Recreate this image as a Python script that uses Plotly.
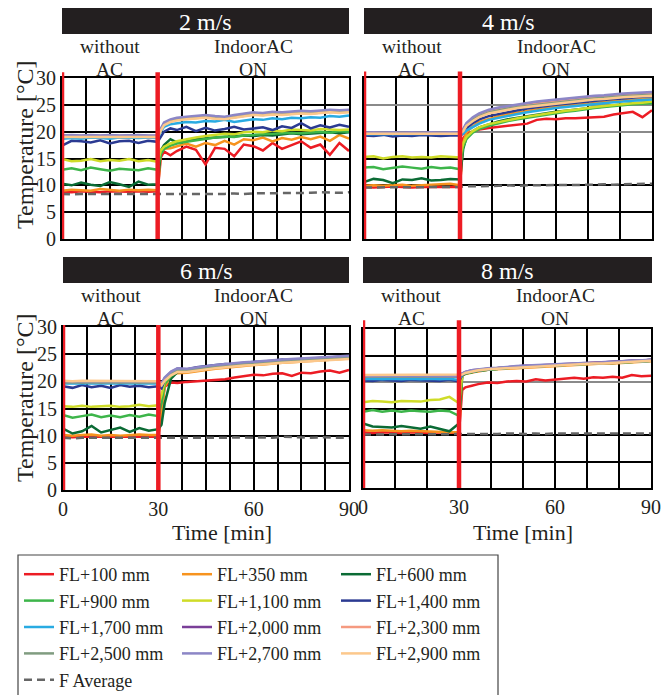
import plotly.graph_objects as go

W, H = 667, 695

# time axis [min]
T = [0, 3, 6, 9, 12, 15, 18, 21, 24, 27, 30, 31, 32, 34, 36, 39, 42, 45, 48, 51, 54, 57,
     60, 63, 66, 69, 72, 75, 78, 81, 84, 87, 90]

series_names = ["FL+100 mm", "FL+350 mm", "FL+600 mm", "FL+900 mm", "FL+1,100 mm",
                "FL+1,400 mm", "FL+1,700 mm", "FL+2,000 mm", "FL+2,300 mm",
                "FL+2,500 mm", "FL+2,700 mm", "FL+2,900 mm", "F Average"]
series_colors = ["#ec1c24", "#f7931e", "#0b6b35", "#3db54a", "#cfdc28", "#2b3a92",
                 "#29abe2", "#7a3f98", "#f59a80", "#809c80", "#8c86c6", "#fcc88c", "#666666"]
panel_titles = ["2 m/s", "4 m/s", "6 m/s", "8 m/s"]
phase_labels = [("without", "AC"), ("IndoorAC", "ON")]

# ---------------- 2 m/s ----------------
a_fl100 = [8.8, 8.7, 8.9, 8.8, 8.7, 8.9, 8.8, 8.8, 8.9, 8.8, 8.9,
           15.2, 16.3, 15.6, 16.4, 17.2, 16.6, 13.9, 17.0, 16.8, 15.4, 17.6, 17.3, 16.5, 17.9, 16.8, 17.5, 18.2, 17.0, 17.6, 15.7, 17.9, 16.4]
a_fl350 = [9.0, 9.2, 9.1, 9.0, 9.3, 9.1, 9.0, 9.2, 9.1, 9.2, 9.1,
           16.0, 16.8, 16.9, 17.3, 17.8, 17.2, 17.9, 17.5, 18.3, 17.6, 18.6, 18.4, 18.9, 18.2, 18.8, 18.5, 19.0, 18.6, 19.1, 18.3, 19.4, 18.7]
a_fl600 = [10.3, 10.0, 10.5, 10.1, 9.9, 10.6, 10.2, 9.7, 10.7, 10.1, 10.2,
           16.5, 17.5, 18.6, 18.0, 18.2, 18.6, 18.8, 18.9, 19.0, 19.1, 19.3, 19.2, 19.4, 19.3, 19.5, 19.7, 19.5, 19.6, 19.8, 19.9, 19.7, 19.9]
a_fl900 = [12.9, 13.2, 12.8, 13.3, 13.0, 12.7, 13.1, 13.0, 12.8, 13.2, 12.9,
           15.8, 16.8, 17.4, 17.8, 18.1, 18.4, 18.7, 18.9, 19.1, 19.0, 19.3, 19.4, 19.5, 19.6, 19.6, 19.8, 19.7, 19.9, 20.0, 19.8, 20.1, 20.0]
a_fl1100 = [14.9, 14.5, 14.6, 14.9, 14.5, 14.7, 14.6, 14.9, 14.5, 14.7, 14.4,
            16.5, 17.2, 17.8, 18.2, 18.6, 18.9, 19.2, 19.4, 19.6, 19.5, 19.9, 20.0, 19.9, 20.2, 20.1, 20.4, 20.3, 20.2, 20.5, 20.4, 20.3, 20.4]
a_fl1400 = [17.4, 18.3, 18.2, 18.0, 18.4, 17.8, 18.2, 18.3, 17.9, 18.3, 18.1,
            19.0, 20.0, 20.6, 20.3, 20.9, 20.1, 20.7, 20.2, 20.5, 20.9, 20.4, 20.6, 20.8, 20.3, 21.0, 20.7, 21.6, 20.6, 21.2, 20.8, 21.3, 20.9]
a_fl1700 = [18.7, 18.8, 18.7, 18.9, 18.8, 18.7, 18.9, 18.8, 18.8, 18.9, 18.8,
            20.0, 20.9, 21.4, 21.6, 21.8, 21.7, 22.0, 21.9, 22.2, 21.8, 22.1, 22.3, 22.2, 22.5, 22.3, 22.6, 22.5, 22.7, 22.6, 22.9, 22.8, 23.0]
a_fl2000 = [19.2, 19.3, 19.2, 19.3, 19.2, 19.3, 19.2, 19.3, 19.3, 19.2, 19.2,
            20.5, 21.5, 22.1, 22.4, 22.6, 22.8, 22.9, 22.7, 22.6, 22.9, 23.2, 23.4, 23.3, 23.5, 23.4, 23.6, 23.7, 23.6, 23.8, 23.9, 23.8, 23.9]
a_fl2300 = [19.0, 19.1, 19.0, 19.1, 19.0, 19.1, 19.0, 19.1, 19.1, 19.0, 19.0,
            20.3, 21.3, 21.9, 22.2, 22.5, 22.7, 22.8, 22.6, 22.5, 22.8, 23.1, 23.3, 23.2, 23.4, 23.3, 23.5, 23.6, 23.5, 23.7, 23.8, 23.7, 23.8]
a_fl2500 = [19.1, 19.1, 19.2, 19.1, 19.1, 19.2, 19.1, 19.1, 19.2, 19.1, 19.1,
            20.4, 21.4, 22.0, 22.3, 22.4, 22.6, 22.7, 22.5, 22.4, 22.7, 23.0, 23.2, 23.1, 23.3, 23.2, 23.4, 23.5, 23.4, 23.6, 23.7, 23.6, 23.7]
a_fl2700 = [19.3, 19.4, 19.3, 19.4, 19.3, 19.4, 19.3, 19.4, 19.4, 19.3, 19.3,
            20.6, 21.7, 22.3, 22.6, 22.8, 23.0, 23.1, 22.9, 22.8, 23.1, 23.4, 23.6, 23.5, 23.7, 23.6, 23.8, 23.9, 23.8, 24.0, 24.1, 24.0, 24.1]
a_fl2900 = [19.0, 19.0, 19.1, 19.0, 19.0, 19.1, 19.0, 19.0, 19.1, 19.0, 19.0,
            20.2, 21.2, 21.8, 22.1, 22.3, 22.5, 22.6, 22.4, 22.3, 22.6, 22.9, 23.1, 23.0, 23.2, 23.1, 23.3, 23.4, 23.3, 23.5, 23.6, 23.5, 23.6]
a_favg = [8.4, 8.3, 8.4, 8.4, 8.3, 8.4, 8.4, 8.3, 8.4, 8.4, 8.4,
          8.3, 8.3, 8.3, 8.4, 8.3, 8.4, 8.4, 8.3, 8.4, 8.5, 8.4, 8.5, 8.5, 8.5, 8.6, 8.5, 8.6, 8.6, 8.7, 8.6, 8.6, 8.7]

# ---------------- 4 m/s ----------------
b_fl100 = [9.7, 9.6, 9.7, 9.8, 9.7, 9.6, 9.7, 9.7, 9.8, 9.7, 9.7,
           18.8, 19.6, 20.0, 20.4, 20.7, 20.9, 21.2, 21.4, 21.5, 22.2, 22.4, 22.3, 22.5, 22.5, 22.6, 22.6, 22.8, 23.2, 23.4, 23.7, 22.7, 24.0]
b_fl350 = [9.9, 10.0, 9.9, 10.0, 10.1, 9.9, 10.0, 10.0, 10.1, 10.3, 10.0,
           18.0, 19.8, 21.0, 21.8, 22.4, 22.9, 23.3, 23.6, 23.9, 24.2, 24.4, 24.6, 24.8, 25.0, 25.2, 25.4, 25.5, 25.7, 25.8, 25.9, 26.0, 26.2]
b_fl600 = [10.6, 11.2, 11.0, 10.4, 11.1, 11.0, 11.3, 10.9, 11.0, 11.2, 11.1,
           16.8, 18.9, 20.1, 20.8, 21.4, 21.9, 22.3, 22.6, 22.9, 23.2, 23.4, 23.7, 23.9, 24.1, 24.4, 24.6, 24.8, 25.0, 25.1, 25.3, 25.4, 25.5]
b_fl900 = [13.3, 13.4, 13.0, 13.2, 13.5, 13.3, 13.1, 13.4, 13.2, 13.3, 13.0,
           17.2, 18.6, 19.8, 20.5, 21.1, 21.6, 22.0, 22.3, 22.6, 22.9, 23.1, 23.4, 23.7, 23.9, 24.2, 24.4, 24.6, 24.8, 24.9, 25.1, 25.2, 25.3]
b_fl1100 = [15.3, 15.4, 15.0, 15.3, 15.4, 15.2, 15.3, 15.2, 15.4, 15.3, 15.2,
            17.8, 19.0, 20.1, 20.8, 21.4, 21.8, 22.2, 22.5, 22.8, 23.1, 23.3, 23.6, 23.9, 24.1, 24.4, 24.6, 24.8, 25.0, 25.1, 25.3, 25.4, 25.6]
b_fl1400 = [19.3, 19.2, 19.4, 19.1, 19.3, 19.2, 19.4, 19.3, 19.2, 19.3, 19.3,
            19.6, 20.6, 21.6, 22.3, 22.9, 23.3, 23.7, 24.0, 24.3, 24.6, 24.8, 25.0, 25.2, 25.4, 25.6, 25.8, 25.9, 26.1, 26.2, 26.4, 26.5, 26.6]
b_fl1700 = [19.5, 19.5, 19.6, 19.5, 19.5, 19.6, 19.5, 19.5, 19.6, 19.5, 19.5,
            19.6, 20.2, 20.9, 21.5, 22.2, 22.6, 23.0, 23.3, 23.6, 23.9, 24.2, 24.4, 24.6, 24.8, 25.0, 25.2, 25.3, 25.5, 25.6, 25.8, 25.9, 26.0]
b_fl2000 = [19.7, 19.8, 19.7, 19.8, 19.7, 19.8, 19.7, 19.8, 19.7, 19.8, 19.7,
            20.4, 21.4, 22.5, 23.2, 23.9, 24.3, 24.6, 24.9, 25.1, 25.4, 25.6, 25.8, 26.0, 26.2, 26.3, 26.5, 26.6, 26.8, 26.9, 27.0, 27.1, 27.2]
b_fl2300 = [19.6, 19.7, 19.6, 19.7, 19.6, 19.7, 19.6, 19.7, 19.6, 19.7, 19.6,
            20.3, 21.3, 22.3, 23.0, 23.7, 24.1, 24.4, 24.7, 24.9, 25.2, 25.4, 25.6, 25.8, 26.0, 26.1, 26.3, 26.4, 26.6, 26.7, 26.8, 26.9, 27.0]
b_fl2500 = [19.7, 19.7, 19.8, 19.7, 19.7, 19.8, 19.7, 19.7, 19.8, 19.7, 19.7,
            20.2, 21.2, 22.2, 22.9, 23.6, 24.0, 24.3, 24.6, 24.8, 25.1, 25.3, 25.5, 25.7, 25.9, 26.0, 26.2, 26.3, 26.5, 26.6, 26.7, 26.8, 26.9]
b_fl2700 = [19.8, 19.9, 19.8, 19.9, 19.8, 19.9, 19.8, 19.9, 19.8, 19.9, 19.8,
            20.5, 21.6, 22.7, 23.4, 24.1, 24.5, 24.8, 25.1, 25.3, 25.6, 25.8, 26.0, 26.2, 26.4, 26.5, 26.7, 26.8, 27.0, 27.1, 27.2, 27.3, 27.4]
b_fl2900 = [19.6, 19.6, 19.7, 19.6, 19.6, 19.7, 19.6, 19.6, 19.7, 19.6, 19.6,
            20.1, 21.1, 22.0, 22.7, 23.4, 23.8, 24.1, 24.4, 24.6, 24.9, 25.1, 25.3, 25.5, 25.7, 25.8, 26.0, 26.1, 26.3, 26.4, 26.5, 26.6, 26.7]
b_favg = [9.6, 9.6, 9.7, 9.6, 9.6, 9.7, 9.6, 9.6, 9.7, 9.6, 9.7,
          9.8, 9.8, 9.8, 9.9, 9.9, 9.9, 10.0, 9.9, 10.0, 10.0, 10.0, 10.1, 10.0, 10.1, 10.1, 10.1, 10.2, 10.1, 10.2, 10.2, 10.2, 10.3]

# ---------------- 6 m/s ----------------
c_fl100 = [9.8, 9.7, 9.8, 9.8, 9.7, 9.8, 9.8, 9.7, 9.8, 9.8, 9.8,
           15.0, 19.0, 19.8, 19.7, 19.9, 20.0, 20.1, 20.3, 20.4, 20.7, 20.9, 21.2, 21.1, 21.4, 21.5, 21.0, 21.6, 21.5, 21.8, 22.0, 21.6, 22.1]
c_fl350 = [10.1, 10.0, 10.1, 10.2, 10.0, 10.1, 10.0, 10.1, 10.2, 10.1, 10.1,
           14.0, 19.0, 21.0, 21.5, 21.6, 21.9, 22.1, 22.3, 22.5, 22.7, 22.8, 23.0, 23.1, 23.3, 23.4, 23.5, 23.6, 23.8, 23.9, 24.0, 24.1, 24.2]
c_fl600 = [11.3, 10.4, 10.8, 11.8, 10.6, 11.0, 11.5, 10.7, 11.4, 10.9, 11.2,
           12.0, 16.0, 20.5, 21.7, 21.8, 22.1, 22.4, 22.5, 22.8, 22.9, 23.1, 23.3, 23.4, 23.6, 23.7, 23.8, 23.9, 24.1, 24.2, 24.3, 24.4, 24.5]
c_fl900 = [13.8, 13.3, 13.6, 13.9, 13.4, 13.7, 13.4, 13.8, 13.5, 13.9, 13.6,
           16.0, 19.5, 21.0, 21.8, 21.9, 22.2, 22.4, 22.6, 22.8, 23.0, 23.1, 23.3, 23.5, 23.6, 23.7, 23.8, 24.0, 24.1, 24.2, 24.3, 24.4, 24.5]
c_fl1100 = [15.4, 15.3, 15.5, 15.3, 15.4, 15.5, 15.3, 15.4, 15.7, 15.4, 15.6,
            17.5, 20.0, 21.2, 21.9, 22.0, 22.3, 22.5, 22.7, 22.9, 23.0, 23.2, 23.4, 23.5, 23.6, 23.8, 23.9, 24.0, 24.1, 24.3, 24.4, 24.5, 24.6]
c_fl1400 = [19.1, 18.8, 19.3, 18.9, 19.2, 18.8, 19.3, 19.0, 19.2, 18.9, 19.1,
            18.7, 20.3, 21.6, 22.3, 22.2, 22.6, 22.8, 23.0, 23.2, 23.1, 23.4, 23.6, 23.5, 23.8, 24.0, 23.8, 24.1, 24.2, 24.1, 24.4, 24.5, 24.6]
c_fl1700 = [19.6, 19.6, 19.7, 19.6, 19.7, 19.6, 19.6, 19.7, 19.6, 19.7, 19.6,
            19.2, 20.4, 21.5, 22.1, 22.1, 22.4, 22.6, 22.8, 23.0, 23.1, 23.3, 23.4, 23.6, 23.7, 23.8, 23.9, 24.0, 24.2, 24.3, 24.4, 24.5, 24.5]
c_fl2000 = [19.9, 20.0, 19.9, 20.0, 19.9, 20.0, 19.9, 20.0, 19.9, 20.0, 19.9,
            19.6, 20.6, 21.7, 22.3, 22.2, 22.5, 22.7, 22.9, 23.1, 23.2, 23.4, 23.5, 23.7, 23.8, 23.9, 24.0, 24.1, 24.3, 24.4, 24.5, 24.5, 24.6]
c_fl2300 = [19.9, 19.9, 20.0, 19.9, 19.9, 20.0, 19.9, 19.9, 20.0, 19.9, 19.9,
            19.5, 20.5, 21.6, 22.2, 22.1, 22.4, 22.6, 22.8, 23.0, 23.1, 23.3, 23.4, 23.6, 23.7, 23.8, 23.9, 24.0, 24.2, 24.3, 24.4, 24.4, 24.5]
c_fl2500 = [19.8, 19.9, 19.8, 19.9, 19.8, 19.9, 19.8, 19.9, 19.8, 19.9, 19.8,
            19.4, 20.4, 21.5, 22.1, 22.0, 22.3, 22.5, 22.7, 22.9, 23.0, 23.2, 23.3, 23.5, 23.6, 23.7, 23.8, 23.9, 24.1, 24.2, 24.3, 24.3, 24.4]
c_fl2700 = [20.0, 20.0, 20.1, 20.0, 20.0, 20.1, 20.0, 20.0, 20.1, 20.0, 20.0,
            19.6, 20.7, 21.8, 22.4, 22.3, 22.6, 22.8, 23.0, 23.2, 23.3, 23.5, 23.6, 23.8, 23.9, 24.0, 24.1, 24.2, 24.4, 24.5, 24.6, 24.6, 24.7]
c_fl2900 = [20.1, 20.0, 20.1, 20.1, 20.0, 20.1, 20.1, 20.0, 20.1, 20.1, 20.0,
            19.3, 20.1, 21.1, 21.7, 21.7, 22.0, 22.2, 22.4, 22.6, 22.7, 22.9, 23.0, 23.2, 23.3, 23.4, 23.5, 23.6, 23.8, 23.9, 24.0, 24.0, 24.1]
c_favg = [9.6, 9.5, 9.6, 9.6, 9.5, 9.6, 9.6, 9.5, 9.6, 9.6, 9.6,
          9.6, 9.6, 9.6, 9.6, 9.5, 9.6, 9.5, 9.6, 9.6, 9.7, 9.6, 9.6, 9.7, 9.6, 9.8, 9.7, 9.7, 9.6, 9.7, 9.6, 9.6, 9.6]

# ---------------- 8 m/s ----------------
d_fl100 = [10.5, 10.4, 10.5, 10.4, 10.4, 10.5, 10.4, 10.4, 10.5, 10.4, 10.4,
           18.5, 19.0, 19.3, 19.6, 19.9, 19.8, 20.1, 20.2, 20.1, 20.5, 20.3, 20.5, 20.6, 20.8, 20.6, 20.9, 20.8, 21.0, 20.8, 21.3, 21.1, 21.2]
d_fl350 = [10.9, 10.8, 10.9, 10.8, 10.7, 10.8, 10.7, 10.6, 10.6, 10.5, 10.5,
           21.2, 21.5, 21.8, 22.0, 22.3, 22.4, 22.6, 22.7, 22.8, 22.9, 23.0, 23.1, 23.2, 23.2, 23.3, 23.4, 23.5, 23.5, 23.6, 23.7, 23.8, 23.9]
d_fl600 = [12.2, 11.6, 11.5, 11.4, 11.7, 11.5, 11.2, 11.6, 11.2, 10.7, 12.2,
           21.3, 21.6, 21.9, 22.1, 22.3, 22.5, 22.6, 22.8, 22.9, 23.0, 23.1, 23.2, 23.2, 23.3, 23.4, 23.5, 23.6, 23.6, 23.7, 23.8, 23.9, 24.0]
d_fl900 = [14.4, 14.7, 14.4, 14.6, 14.4, 14.6, 14.5, 14.4, 14.6, 14.5, 13.6,
           21.3, 21.6, 21.9, 22.1, 22.3, 22.5, 22.6, 22.8, 22.9, 23.0, 23.1, 23.2, 23.3, 23.3, 23.4, 23.5, 23.6, 23.7, 23.7, 23.8, 23.9, 24.0]
d_fl1100 = [16.2, 16.4, 16.3, 16.2, 16.4, 16.3, 16.3, 16.6, 16.7, 17.2, 16.0,
            21.4, 21.7, 22.0, 22.2, 22.4, 22.6, 22.7, 22.9, 23.0, 23.0, 23.1, 23.2, 23.3, 23.4, 23.4, 23.5, 23.6, 23.7, 23.8, 23.9, 23.9, 24.1]
d_fl1400 = [20.3, 20.2, 20.4, 20.3, 20.2, 20.4, 20.3, 20.3, 20.2, 20.4, 20.1,
            21.3, 21.7, 22.0, 22.2, 22.4, 22.6, 22.7, 22.9, 23.0, 23.1, 23.2, 23.3, 23.4, 23.5, 23.5, 23.6, 23.7, 23.8, 23.9, 24.0, 24.0, 24.2]
d_fl1700 = [20.5, 20.6, 20.5, 20.6, 20.5, 20.6, 20.5, 20.6, 20.5, 20.6, 20.4,
            21.4, 21.7, 22.0, 22.2, 22.4, 22.6, 22.7, 22.8, 22.9, 23.0, 23.1, 23.2, 23.3, 23.4, 23.4, 23.5, 23.6, 23.7, 23.8, 23.9, 23.9, 24.0]
d_fl2000 = [21.1, 21.0, 21.1, 21.1, 21.0, 21.1, 21.1, 21.0, 21.1, 21.1, 21.0,
            21.6, 21.9, 22.2, 22.3, 22.5, 22.7, 22.8, 23.0, 23.1, 23.1, 23.2, 23.3, 23.4, 23.5, 23.5, 23.6, 23.7, 23.8, 23.9, 24.0, 24.0, 24.2]
d_fl2300 = [21.2, 21.2, 21.3, 21.2, 21.2, 21.3, 21.2, 21.2, 21.3, 21.2, 21.2,
            21.5, 21.8, 22.1, 22.3, 22.5, 22.6, 22.8, 22.9, 23.0, 23.1, 23.2, 23.2, 23.3, 23.4, 23.5, 23.6, 23.6, 23.7, 23.8, 23.9, 24.0, 24.1]
d_fl2500 = [21.0, 21.0, 21.1, 21.0, 21.0, 21.1, 21.0, 21.0, 21.1, 21.0, 21.0,
            21.5, 21.8, 22.0, 22.2, 22.4, 22.6, 22.7, 22.9, 23.0, 23.0, 23.1, 23.2, 23.3, 23.4, 23.4, 23.5, 23.6, 23.7, 23.8, 23.8, 23.9, 24.0]
d_fl2700 = [21.2, 21.1, 21.2, 21.2, 21.1, 21.2, 21.2, 21.1, 21.2, 21.2, 21.1,
            21.6, 21.9, 22.2, 22.4, 22.6, 22.7, 22.9, 23.0, 23.1, 23.2, 23.3, 23.3, 23.4, 23.5, 23.6, 23.6, 23.7, 23.8, 23.9, 24.0, 24.1, 24.2]
d_fl2900 = [21.3, 21.3, 21.4, 21.3, 21.3, 21.4, 21.3, 21.3, 21.4, 21.3, 21.3,
            21.4, 21.7, 22.0, 22.2, 22.4, 22.5, 22.7, 22.8, 22.9, 23.0, 23.1, 23.1, 23.2, 23.3, 23.4, 23.5, 23.5, 23.6, 23.7, 23.8, 23.9, 24.0]
d_favg = [10.1, 10.1, 10.2, 10.1, 10.1, 10.2, 10.1, 10.1, 10.2, 10.1, 10.1,
          10.2, 10.2, 10.2, 10.2, 10.2, 10.2, 10.3, 10.2, 10.2, 10.3, 10.2, 10.3, 10.3, 10.2, 10.3, 10.3, 10.3, 10.3, 10.3, 10.3, 10.3, 10.3]

panel_series = [
    [a_fl100, a_fl350, a_fl600, a_fl900, a_fl1100, a_fl1400, a_fl1700, a_fl2000, a_fl2300, a_fl2500, a_fl2700, a_fl2900, a_favg],
    [b_fl100, b_fl350, b_fl600, b_fl900, b_fl1100, b_fl1400, b_fl1700, b_fl2000, b_fl2300, b_fl2500, b_fl2700, b_fl2900, b_favg],
    [c_fl100, c_fl350, c_fl600, c_fl900, c_fl1100, c_fl1400, c_fl1700, c_fl2000, c_fl2300, c_fl2500, c_fl2700, c_fl2900, c_favg],
    [d_fl100, d_fl350, d_fl600, d_fl900, d_fl1100, d_fl1400, d_fl1700, d_fl2000, d_fl2300, d_fl2500, d_fl2700, d_fl2900, d_favg],
]

# ---------------- layout geometry (pixels) ----------------
boxes = [(62, 349, 78, 239), (364, 652, 78, 239), (63, 349, 327, 490), (363, 651, 329, 488)]
bars = [(62, 349, 8, 34), (364, 652, 8, 34), (63, 349, 257, 283), (363, 652, 257, 283)]
grid_step = [7.5, 10, 7.5, 10]
red_top = [1.035, 1.04, 1.012, 1.055]
FONT = "Liberation Serif"


def px(x):
    return x / W


def py(y):
    return 1 - y / H


fig = go.Figure()

legend_of = {k: ["legend", "legend2", "legend3"][k % 3] for k in range(12)}
legend_of[12] = "legend"

for p in range(4):
    xa = "x" if p == 0 else f"x{p + 1}"
    ya = "y" if p == 0 else f"y{p + 1}"
    for k, name in enumerate(series_names):
        dash = "solid" if k < 12 else "8px,5px"
        fig.add_trace(go.Scatter(
            x=T, y=panel_series[p][k], mode="lines", name=name,
            line=dict(color=series_colors[k], width=2.5, dash=dash),
            xaxis=xa, yaxis=ya, showlegend=(p == 0), legend=legend_of[k],
            hoverinfo="skip"))

axis_common = dict(showline=True, mirror=True, linecolor="black", linewidth=2,
                   showgrid=True, gridcolor="black", gridwidth=2, zeroline=False,
                   ticks="", tickfont=dict(family=FONT, size=20, color="#231f20"))

layout = dict(width=W, height=H, margin=dict(l=0, r=0, t=0, b=0, autoexpand=False),
              paper_bgcolor="white", plot_bgcolor="white",
              font=dict(family=FONT, color="#231f20"))

for p in range(4):
    l, r, t, b = boxes[p]
    sx = "" if p == 0 else str(p + 1)
    xaxis = dict(axis_common, domain=[px(l), px(r)], anchor="y" + sx, range=[0, 90],
                 tickmode="array", tickvals=[0, 30, 60, 90], showticklabels=(p >= 2),
                 minor=dict(dtick=grid_step[p], tick0=0, showgrid=True, gridcolor="black", gridwidth=2))
    if p in (0, 2):
        yaxis = dict(axis_common, domain=[py(b), py(t)], anchor="x" + sx, range=[0, 30],
                     tickmode="array", tickvals=[0, 5, 10, 15, 20, 25, 30], showticklabels=True)
    elif p == 1:
        yaxis = dict(axis_common, domain=[py(b), py(t)], anchor="x" + sx, range=[0, 30],
                     tickmode="array", tickvals=[0, 5, 10, 15, 30], showticklabels=False,
                     minor=dict(tickmode="array", tickvals=[20, 25], showgrid=True, gridcolor="#8a8a8a", gridwidth=1.5))
    else:
        yaxis = dict(axis_common, domain=[py(b), py(t)], anchor="x" + sx, range=[0, 30],
                     tickmode="array", tickvals=[0, 5, 10, 15, 25, 30], showticklabels=False,
                     minor=dict(tickmode="array", tickvals=[20], showgrid=True, gridcolor="#8a8a8a", gridwidth=1.5))
    layout["xaxis" + sx] = xaxis
    layout["yaxis" + sx] = yaxis

shapes = []
annotations = []
for p in range(4):
    sx = "" if p == 0 else str(p + 1)
    for tv in (0, 30):
        shapes.append(dict(type="line", xref="x" + sx, yref=f"y{sx} domain",
                           x0=tv, x1=tv, y0=0, y1=red_top[p],
                           line=dict(color="#ed1c24", width=4.5), layer="above"))
    bl, br, bt, bb = bars[p]
    shapes.append(dict(type="rect", xref="paper", yref="paper", x0=px(bl), x1=px(br),
                       y0=py(bb), y1=py(bt), fillcolor="#231f20", line=dict(width=0)))
    annotations.append(dict(text=panel_titles[p], xref="paper", yref="paper",
                            x=px((bl + br) / 2), y=py((bt + bb) / 2 + 1), showarrow=False,
                            xanchor="center", yanchor="middle",
                            font=dict(family=FONT, size=24, color="white")))
    y_first, y_second = (47, 69) if p < 2 else (296, 318)
    for tx, (s1, s2) in zip((15, 60), phase_labels):
        for s, yy in ((s1, y_first), (s2, y_second)):
            annotations.append(dict(text=s, xref="x" + sx, yref="paper", x=tx, y=py(yy),
                                    showarrow=False, xanchor="center", yanchor="middle",
                                    font=dict(family=FONT, size=19.5, color="#231f20")))
    if p in (0, 2):
        annotations.append(dict(text="Temperature [°C]", xref="paper", yref="paper",
                                x=px(25), y=py(145 if p == 0 else 398), textangle=-90,
                                showarrow=False, xanchor="center", yanchor="middle",
                                font=dict(family=FONT, size=24, color="#231f20")))
    if p >= 2:
        annotations.append(dict(text="Time [min]", xref="x" + sx, yref="paper",
                                x=50, y=py(532), showarrow=False, xanchor="center",
                                yanchor="middle",
                                font=dict(family=FONT, size=22, color="#231f20")))

# legend frame
shapes.append(dict(type="rect", xref="paper", yref="paper", x0=px(18), x1=px(498),
                   y0=py(705), y1=py(555), line=dict(color="#444444", width=1.2),
                   fillcolor="rgba(0,0,0,0)"))

layout["shapes"] = shapes
layout["annotations"] = annotations

leg_font = dict(family=FONT, size=18, color="#231f20")
leg_common = dict(orientation="v", yanchor="top", xanchor="left", y=py(556),
                  bgcolor="rgba(0,0,0,0)", borderwidth=0, font=leg_font,
                  tracegroupgap=0, itemwidth=30)
layout["legend"] = dict(leg_common, x=px(19))
layout["legend2"] = dict(leg_common, x=px(177))
layout["legend3"] = dict(leg_common, x=px(336))

fig.update_layout(**layout)
fig.write_html("out.html")
